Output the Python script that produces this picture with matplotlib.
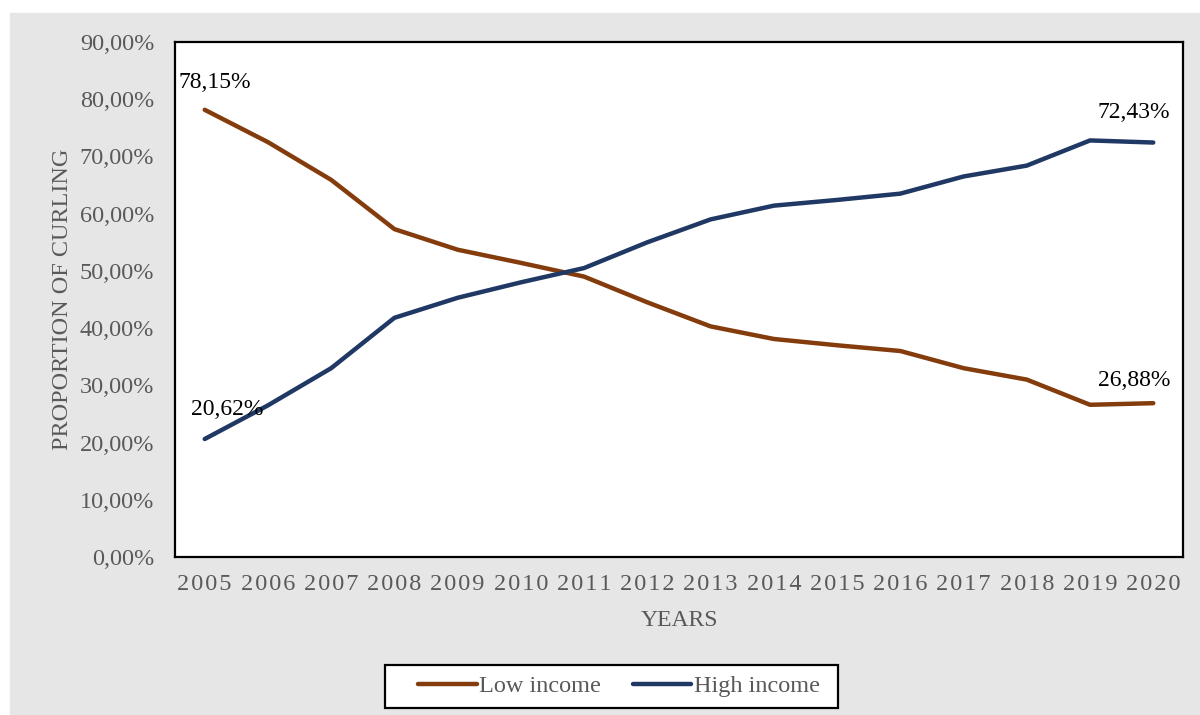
import matplotlib
matplotlib.use('Agg')
import matplotlib.pyplot as plt
from matplotlib.patches import Rectangle
from matplotlib.ticker import FuncFormatter

plt.rcParams['font.family'] = ['Liberation Serif', 'DejaVu Serif']

# data
years = [str(y) for y in range(2005, 2021)]
low_income = [78.15, 72.5, 65.9, 57.3, 53.7, 51.4, 49.0, 44.5, 40.3, 38.1,
              37.0, 36.0, 33.0, 31.0, 26.6, 26.88]
high_income = [20.62, 26.5, 33.0, 41.8, 45.3, 48.0, 50.5, 55.0, 59.0, 61.4,
               62.4, 63.5, 66.5, 68.4, 72.8, 72.43]

BROWN = '#843c0c'
NAVY = '#203864'
GRAY_TXT = '#595959'
BG = '#e7e6e6'

fig = plt.figure(figsize=(12, 7.15), dpi=100)
W, H = 1200, 715
# gray chart area
fig.add_artist(Rectangle((10 / W, 0), 1 - 10 / W, 1 - 13 / H,
                         transform=fig.transFigure, color=BG, zorder=-10))

ax = fig.add_axes([175 / W, 1 - 557 / H, (1183 - 175) / W, (557 - 42) / H])
ax.set_zorder(1)
ax.set_facecolor('white')
x = list(range(len(years)))
ax.plot(x, low_income, color=BROWN, lw=3.2, label='Low income', solid_capstyle='round')
ax.plot(x, high_income, color=NAVY, lw=3.2, label='High income', solid_capstyle='round')

ax.set_xlim(-0.47, len(years) - 0.53)
ax.set_ylim(0, 90)
ax.set_yticks(range(0, 91, 10))
ax.yaxis.set_major_formatter(FuncFormatter(lambda v, p: f"{v:.2f}%".replace('.', ',')))
ax.set_xticks(x)
ax.set_xticklabels(['\u200a'.join(y) for y in years])
ax.tick_params(axis='both', length=0, colors=GRAY_TXT, labelsize=17.5)
ax.tick_params(axis='y', pad=15)
ax.tick_params(axis='x', pad=12)
for s in ax.spines.values():
    s.set_color('black')
    s.set_linewidth(1.6)

ax.set_xlabel('YEARS', color=GRAY_TXT, fontsize=17, labelpad=11)
ax.set_ylabel('PROPORTION OF CURLING', color=GRAY_TXT, fontsize=17.5, labelpad=5)

# value labels
ax.annotate('78,15%', (0, low_income[0]), xytext=(-19, 12), textcoords='offset points',
            fontsize=17, color='black', va='bottom', ha='left')
ax.annotate('20,62%', (0, high_income[0]), xytext=(-10, 14), textcoords='offset points',
            fontsize=17, color='black', va='bottom', ha='left')
ax.annotate('72,43%', (15, high_income[-1]), xytext=(12, 14), textcoords='offset points',
            fontsize=17, color='black', va='bottom', ha='right')
ax.annotate('26,88%', (15, low_income[-1]), xytext=(12, 9), textcoords='offset points',
            fontsize=17, color='black', va='bottom', ha='right')

# legend box
fig.add_artist(Rectangle((385 / W, 1 - 708 / H), (838 - 385) / W, (708 - 665) / H,
                         transform=fig.transFigure, facecolor='white',
                         edgecolor='black', lw=1.6, zorder=2))
leg = fig.legend(loc='center', bbox_to_anchor=(619 / W, 1 - 686 / H), ncol=2,
                 fontsize=17.5, frameon=False, handlelength=2.4,
                 handletextpad=0.1, columnspacing=1.3)
leg.set_zorder(3)
for t in leg.get_texts():
    t.set_color(GRAY_TXT)

fig.savefig('out.png', dpi=100, facecolor='white')
